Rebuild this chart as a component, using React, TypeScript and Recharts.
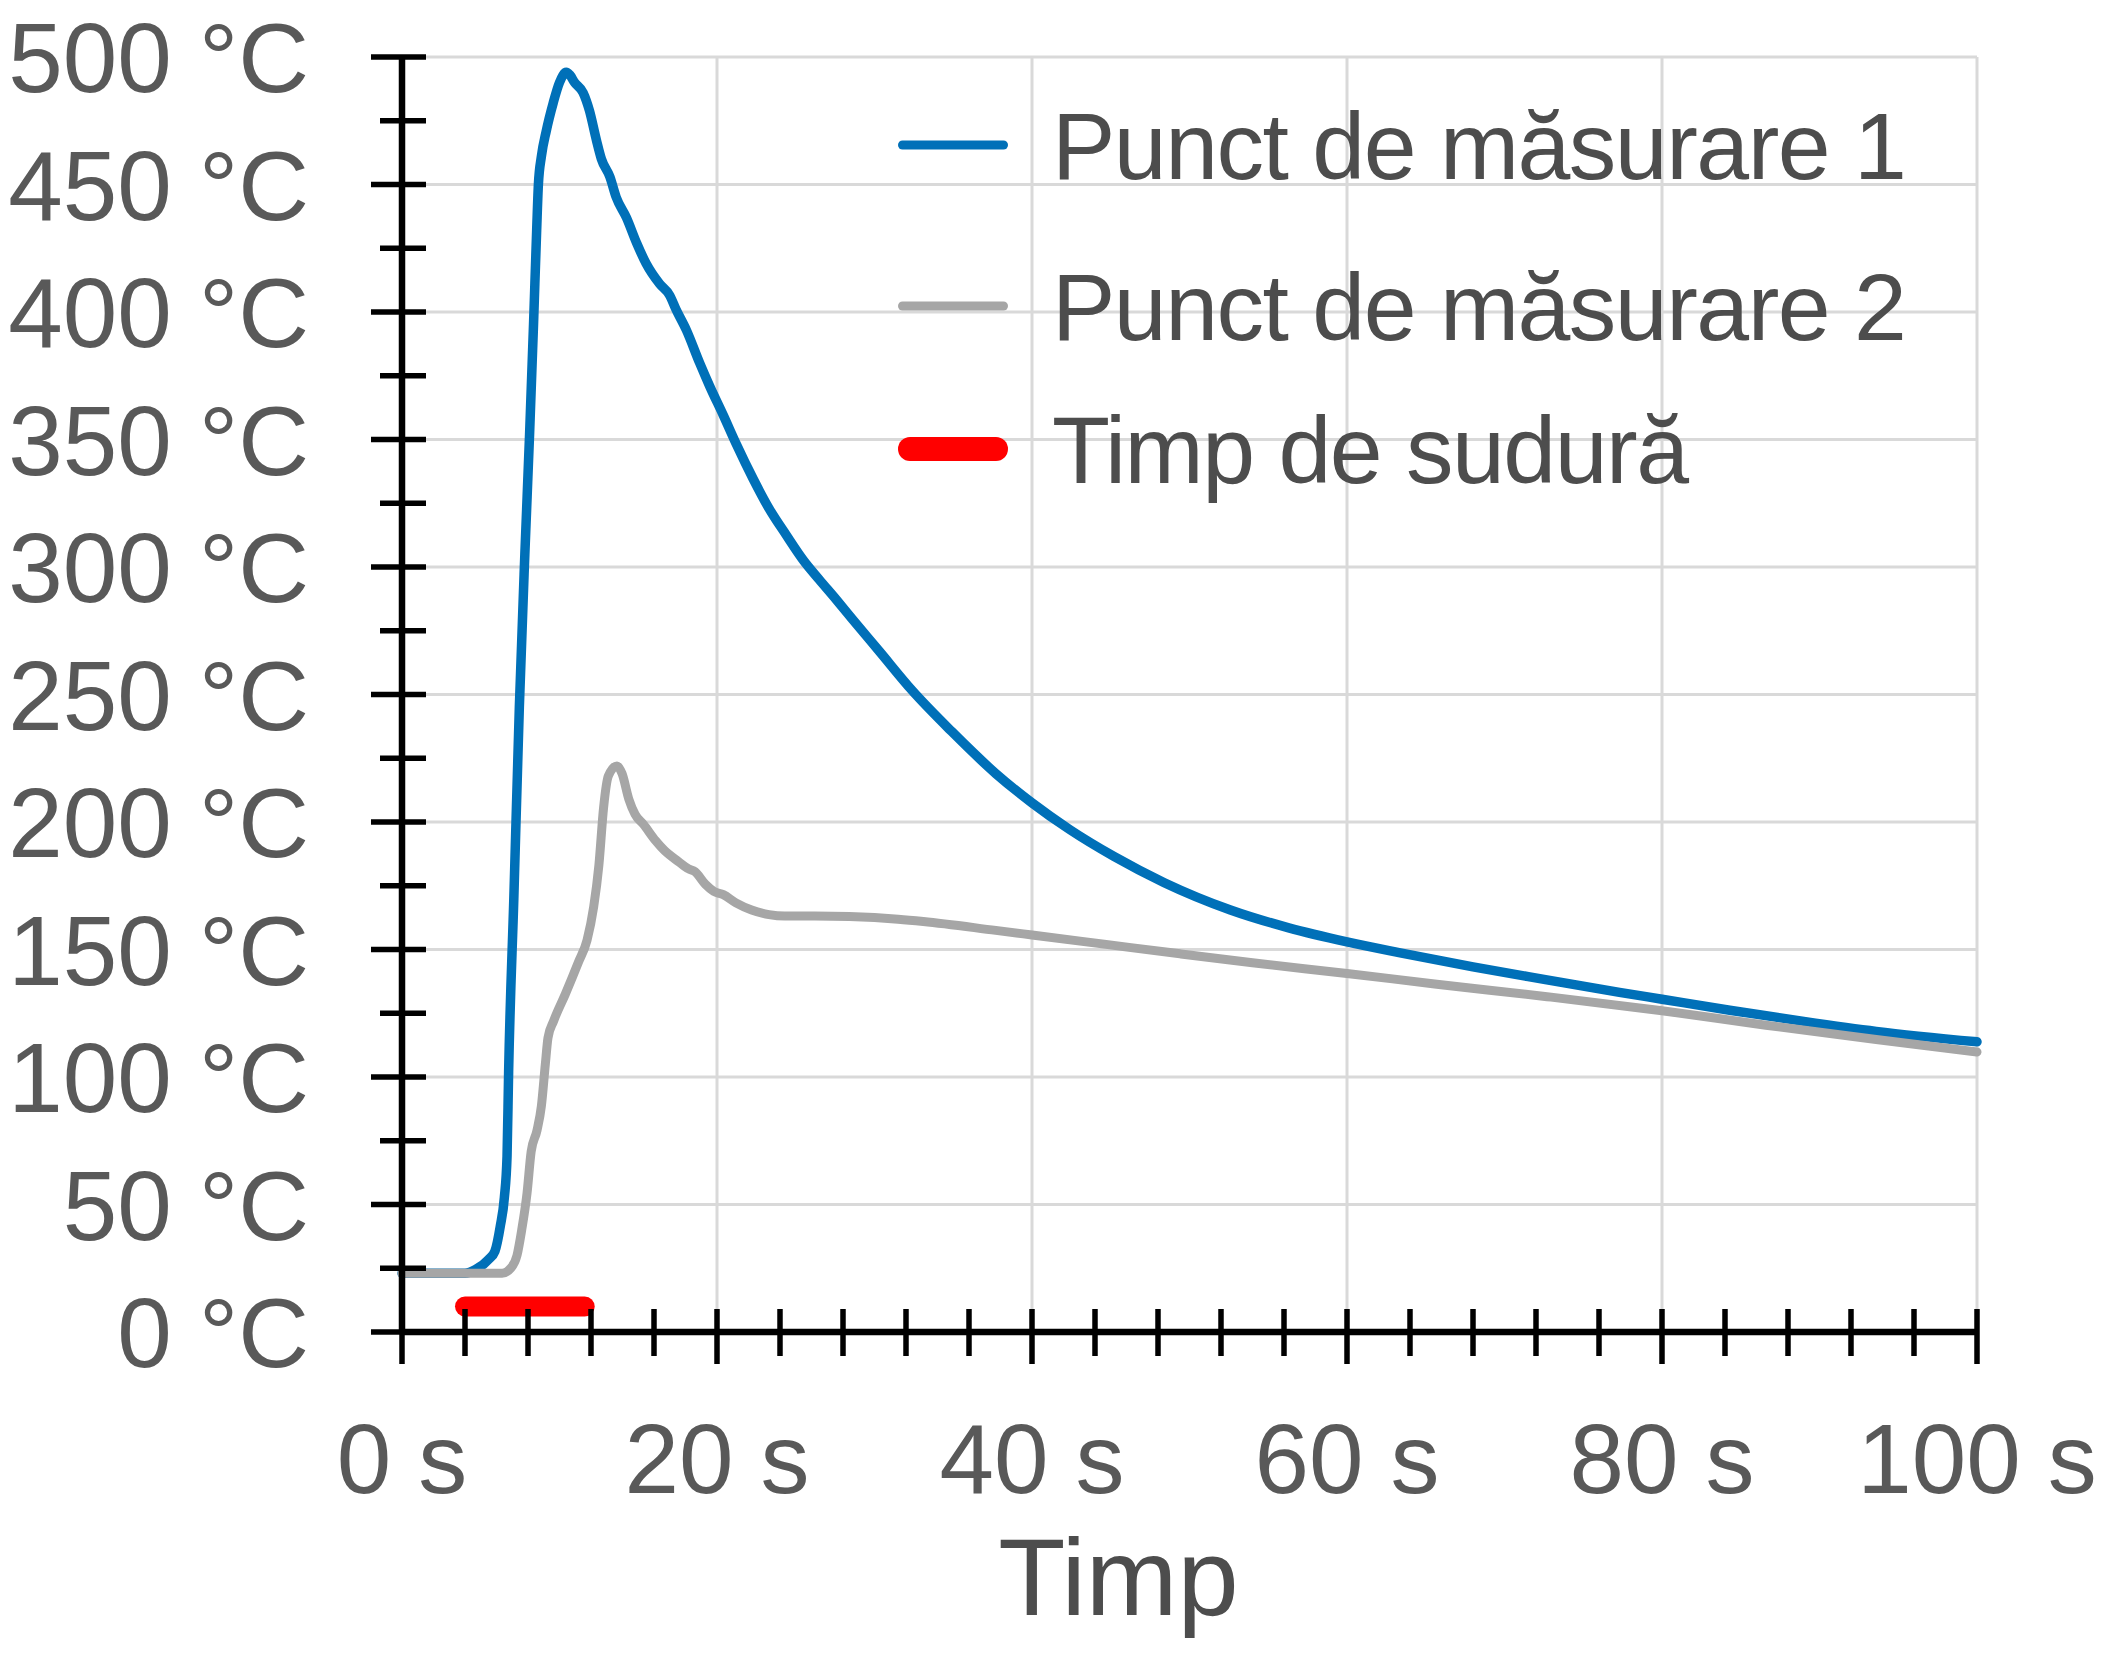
import { LineChart, Line, XAxis, YAxis, CartesianGrid, Legend, Label } from 'recharts'

// Punct de măsurare 1 (blue)
const P1_T = [0, 4, 4.65, 5.5, 5.9, 6.24, 6.5, 6.67, 6.77, 7.1, 7.45, 7.8, 8.1, 8.35, 8.55, 8.66, 8.85, 9.16, 9.6, 10.0, 10.43, 10.65, 10.96, 11.5, 11.9, 12.34, 12.66, 13.2, 13.6, 14.25, 14.9, 15.5, 16.36, 17.0, 17.4, 18.05, 18.9, 19.53, 20.4, 21.2, 22.3, 23.3, 24.4, 25.5, 26.5, 27.6, 28.6, 30.3, 32.4, 34.9, 37.7, 40, 42.4, 45.2, 48.4, 52.6, 56.3, 60, 63.3, 68, 72.6, 77.3, 80, 84.3, 89, 93.6, 100]
const P1_V = [23, 23, 24.4, 28.5, 31.7, 41.5, 52.8, 69, 102, 170, 245, 305, 352, 395, 432, 450, 461, 471, 482, 490, 494, 493, 490, 486, 479, 467.5, 460, 453, 445, 437, 427, 419, 411, 406.5, 401, 393, 380, 371, 359.5, 348.5, 334.5, 323, 312.5, 302.5, 295, 287, 279.5, 267, 251.5, 235.5, 219, 207.5, 197, 186.5, 176.2, 165.5, 158.5, 153, 148.8, 143.2, 138.2, 133.2, 130.5, 126.2, 121.8, 117.9, 113.8]

// Punct de măsurare 2 (gray)
const P2_T = [0, 6.35, 6.9, 7.3, 7.6, 7.94, 8.2, 8.57, 8.85, 9.1, 9.27, 9.63, 10.37, 11.2, 11.75, 12.17, 12.5, 12.8, 13.1, 13.65, 13.97, 14.4, 14.8, 15.34, 16.1, 16.7, 17.55, 18.2, 18.6, 19.26, 19.8, 20.4, 21.2, 22.2, 23.3, 24.3, 26.2, 28.4, 31.5, 33.1, 37.7, 40, 44.7, 49.4, 54, 60, 65.7, 72.7, 80, 86.6, 93.6, 100]
const P2_V = [23, 23, 25, 30, 40, 54.5, 70.7, 79, 88.6, 105, 115.4, 122, 132.5, 145, 153.7, 166.7, 183, 205.7, 218, 222, 219, 209, 203, 199, 192.7, 188.6, 184.5, 181.6, 180.5, 175.6, 172.8, 171.5, 168.3, 165.5, 163.7, 163.1, 163.1, 162.9, 161.9, 161, 157.5, 155.7, 152, 148.3, 144.8, 140.6, 136.4, 131.5, 126, 120.3, 114.7, 109.8]

// Timp de sudură (red bar)
const WELD_T = [4, 11.6]
const WELD_V = [10, 10]

const X_TICKS = [0, 4, 8, 12, 16, 20, 24, 28, 32, 36, 40, 44, 48, 52, 56, 60, 64, 68, 72, 76, 80, 84, 88, 92, 96, 100]
const X_GRID = [20, 40, 60, 80, 100]
const Y_TICKS = [0, 25, 50, 75, 100, 125, 150, 175, 200, 225, 250, 275, 300, 325, 350, 375, 400, 425, 450, 475, 500]
const Y_GRID = [50, 100, 150, 200, 250, 300, 350, 400, 450, 500]

const toRows = (ts: number[], vs: number[]) => ts.map((t, i) => ({ t, v: vs[i] }))

const SERIES = [
  { name: 'Punct de măsurare 1', color: '#0070b8', width: 9.5, legendWidth: 9, data: toRows(P1_T, P1_V) },
  { name: 'Punct de măsurare 2', color: '#a6a6a6', width: 9, legendWidth: 9, data: toRows(P2_T, P2_V) },
  { name: 'Timp de sudură', color: '#ff0000', width: 20, legendWidth: 24, data: toRows(WELD_T, WELD_V) },
]

const FONT = '"Liberation Sans", Arial, sans-serif'

const YTick = ({ x, y, payload }: any) => {
  const v = payload.value
  const major = v % 50 === 0
  return (
    <g>
      <line x1={x - (major ? 31 : 22)} x2={x + 24} y1={y} y2={y} stroke="#000" strokeWidth={5.5} />
      {major && (
        <text x={x - 93} y={y} dy={35} textAnchor="end" fontSize={98} fill="#595959" fontFamily={FONT}>
          {v} °C
        </text>
      )}
    </g>
  )
}

const XTick = ({ x, y, payload }: any) => {
  const v = payload.value
  const major = v % 20 === 0
  return (
    <g>
      <line x1={x} x2={x} y1={y - 23} y2={y + (major ? 32 : 24)} stroke="#000" strokeWidth={5.5} />
      {major && (
        <text x={x} y={y + 161} textAnchor="middle" fontSize={98} fill="#595959" fontFamily={FONT}>
          {v} s
        </text>
      )}
    </g>
  )
}

const LEGEND_ROWS = [85, 246, 389]

const LegendBox = () => (
  <svg width={1150} height={450} style={{ overflow: 'visible' }}>
    {SERIES.map((s, i) => {
      const cy = LEGEND_ROWS[i]
      const inset = s.legendWidth / 2
      return (
        <g key={s.name}>
          <line x1={18 + inset} x2={128 - inset} y1={cy} y2={cy} stroke={s.color} strokeWidth={s.legendWidth} strokeLinecap="round" />
          <text x={172} y={cy + 34} fontSize={95} letterSpacing={-1.5} fill="#4d4d4d" fontFamily={FONT}>
            {s.name}
          </text>
        </g>
      )
    })}
  </svg>
)

const TimpLabel = ({ viewBox }: any) => (
  <text x={viewBox.x + viewBox.width / 2 - 71} y={viewBox.y + 283} textAnchor="middle" fontSize={110} fill="#4d4d4d" fontFamily={FONT}>
    Timp
  </text>
)

export default function App() {
  return (
    <div style={{ position: 'absolute', left: 0, top: 0, width: 2125, height: 1653, background: '#fff' }}>
      <LineChart width={2125} height={1653} margin={{ top: 57, right: 148, bottom: 121, left: 0 }}>
        <CartesianGrid
          stroke="#d9d9d9"
          strokeWidth={3}
          horizontalValues={Y_GRID}
          verticalValues={X_GRID}
        />
        <XAxis
          type="number"
          dataKey="t"
          domain={[0, 100]}
          ticks={X_TICKS}
          interval={0}
          height={200}
          tickSize={0}
          tickMargin={0}
          tickLine={false}
          tick={<XTick />}
          axisLine={{ stroke: '#000', strokeWidth: 6.5 }}
        >
          <Label content={<TimpLabel />} />
        </XAxis>
        <YAxis
          type="number"
          domain={[0, 500]}
          ticks={Y_TICKS}
          interval={0}
          width={402}
          tickSize={0}
          tickMargin={0}
          tickLine={false}
          tick={<YTick />}
          axisLine={{ stroke: '#000', strokeWidth: 6.5 }}
        />
        <Legend
          layout="vertical"
          align="center"
          verticalAlign="middle"
          wrapperStyle={{ left: 880, top: 60, width: 1150, height: 450 }}
          content={() => <LegendBox />}
        />
        {SERIES.map((s, i) => (
          <Line
            key={s.name}
            data={s.data}
            dataKey="v"
            name={s.name}
            type={i === 2 ? 'linear' : 'monotone'}
            stroke={s.color}
            strokeWidth={s.width}
            strokeLinecap="round"
            strokeLinejoin="round"
            dot={false}
            activeDot={false}
            isAnimationActive={false}
          />
        ))}
      </LineChart>
    </div>
  )
}
